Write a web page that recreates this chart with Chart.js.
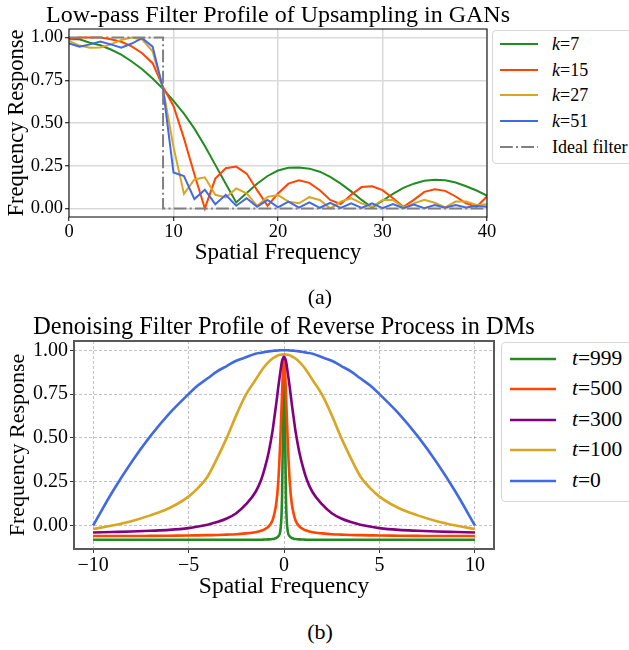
<!DOCTYPE html>
<html lang="en">
<head>
<meta charset="utf-8">
<title>Filter profiles</title>
<style>
  body { margin: 0; width: 629px; height: 650px; overflow: hidden; background: #fff;
         font-family: 'Liberation Serif', serif; color: #000; position: relative; }
  canvas { position: absolute; left: 0; }
  .legend { position: absolute; border: 1px solid #d6d6d6; border-radius: 4px; background: #fff; }
  .row { position: absolute; left: 0; white-space: nowrap; line-height: 1; }
  .row svg { position: absolute; }
  .row span { position: absolute; transform: translateY(-50%); }
  .cap { position: absolute; left: 270px; width: 100px; text-align: center; font-size: 22px; line-height: 1; }
</style>
</head>
<body>
<canvas id="gan" width="629" height="275" style="top:0"></canvas>
<canvas id="dm" width="629" height="310" style="top:300px"></canvas>
<div id="legA" class="legend" style="left:492px; top:30px; width:150px; height:132px"></div>
<div id="legB" class="legend" style="left:501px; top:342px; width:150px; height:158px"></div>
<div class="cap" style="top:286px">(a)</div>
<div class="cap" style="top:621px">(b)</div>

<script src="https://cdn.jsdelivr.net/npm/chart.js@4.4.1/dist/chart.umd.min.js"></script>
<script>
  // --- (a) low-pass filter of upsampling in GANs ---
  var ganFreq = [0, 1, 2, 3, 4, 5, 6, 7, 8, 9, 10, 11, 12, 13, 14, 15, 16, 17, 18, 19, 20,
                 21, 22, 23, 24, 25, 26, 27, 28, 29, 30, 31, 32, 33, 34, 35, 36, 37, 38, 39, 40];
  var k7  = [0.99, 0.99, 0.97, 0.955, 0.93, 0.90, 0.86, 0.815, 0.76, 0.70, 0.63, 0.555, 0.467, 0.365, 0.255, 0.145, 0.035,
             0.09, 0.145, 0.19, 0.222, 0.238, 0.24, 0.233, 0.215, 0.185, 0.145, 0.10, 0.05, 0.005,
             0.045, 0.085, 0.12, 0.145, 0.162, 0.168, 0.165, 0.152, 0.13, 0.105, 0.075];
  var k15 = [0.99, 1.0, 1.0, 1.0, 0.99, 0.975, 0.948, 0.908, 0.85, 0.71, 0.60, 0.41, 0.20, 0.0, 0.175, 0.235, 0.245,
             0.204, 0.107, 0.015, 0.088, 0.145, 0.165, 0.15, 0.107, 0.05, 0.025, 0.08, 0.125, 0.13,
             0.107, 0.06, 0.01, 0.05, 0.097, 0.112, 0.103, 0.07, 0.03, 0.01, 0.07];
  var k27 = [0.98, 0.953, 0.94, 0.942, 0.96, 0.986, 1.0, 0.988, 0.92, 0.70, 0.36, 0.085, 0.17, 0.182, 0.08, 0.064,
             0.117, 0.088, 0.015, 0.068, 0.078, 0.04, 0.03, 0.066, 0.05, 0.0, 0.04, 0.06, 0.03, 0.01,
             0.05, 0.05, 0.006, 0.03, 0.05, 0.033, 0.006, 0.04, 0.04, 0.02, 0.025];
  var k51 = [0.965, 0.947, 0.96, 0.977, 0.96, 0.94, 0.965, 0.996, 0.947, 0.70, 0.21, 0.19, 0.055, 0.11, 0.025, 0.08,
             0.016, 0.06, 0.01, 0.05, 0.006, 0.04, 0.005, 0.035, 0.004, 0.033, 0.003, 0.03, 0.003, 0.03,
             0.002, 0.025, 0.002, 0.023, 0.002, 0.02, 0.004, 0.02, 0.006, 0.014, 0.01];
  var idealFreq = [0, 9, 9, 40];
  var idealResp = [1, 1, 0, 0];
  var ganXTicks = [0, 10, 20, 30, 40];
  var ganYTicks = [0, 0.25, 0.5, 0.75, 1];

  // --- (b) denoising filter of reverse process in DMs ---
  var dmFreq = [-10, -9, -8, -7, -6, -5, -4.5, -4, -3.5, -3, -2.5, -2, -1.5, -1.2, -1, -0.8, -0.6, -0.5, -0.4, -0.3, -0.2, -0.1, -0.05,
                0, 0.05, 0.1, 0.2, 0.3, 0.4, 0.5, 0.6, 0.8, 1, 1.2, 1.5, 2, 2.5, 3, 3.5, 4, 4.5, 5, 6, 7, 8, 9, 10];
  var t999 = [-0.081, -0.081, -0.081, -0.081, -0.081, -0.081, -0.081, -0.081, -0.081, -0.081, -0.081, -0.081, -0.081, -0.081, -0.08,
              -0.079, -0.077, -0.075, -0.071, -0.062, -0.035, 0.17, 0.6,
              0.934,
              0.6, 0.17, -0.035, -0.062, -0.071, -0.075, -0.077, -0.079,
              -0.08, -0.081, -0.081, -0.081, -0.081, -0.081, -0.081, -0.081, -0.081, -0.081, -0.081, -0.081, -0.081, -0.081, -0.081];
  var t500 = [-0.06, -0.06, -0.06, -0.059, -0.058, -0.057, -0.056, -0.055, -0.054, -0.052, -0.05, -0.045, -0.038, -0.03, -0.02,
              -0.005, 0.03, 0.07, 0.13, 0.25, 0.47, 0.76, 0.89,
              0.947,
              0.89, 0.76, 0.47, 0.25, 0.13, 0.07, 0.03, -0.005,
              -0.02, -0.03, -0.038, -0.045, -0.05, -0.052, -0.054, -0.055, -0.056, -0.057, -0.058, -0.059, -0.06, -0.06, -0.06];
  var t300 = [-0.04, -0.037, -0.034, -0.03, -0.025, -0.015, -0.006, 0.005, 0.02, 0.04, 0.07, 0.12, 0.19, 0.26, 0.33,
              0.42, 0.54, 0.62, 0.70, 0.79, 0.87, 0.94, 0.955,
              0.965,
              0.955, 0.94, 0.87, 0.79, 0.70, 0.62, 0.54, 0.42,
              0.33, 0.26, 0.19, 0.12, 0.07, 0.04, 0.02, 0.005, -0.006, -0.015, -0.025, -0.03, -0.034, -0.037, -0.04];
  var t100 = [-0.02, 0.0, 0.025, 0.058, 0.10, 0.165, 0.215, 0.28, 0.385, 0.50, 0.63, 0.745, 0.83, 0.88, 0.91,
              0.934, 0.953, 0.96, 0.966, 0.971, 0.974, 0.976, 0.977,
              0.977,
              0.977, 0.976, 0.974, 0.971, 0.966, 0.96, 0.953, 0.934,
              0.91, 0.88, 0.83, 0.745, 0.63, 0.50, 0.385, 0.28, 0.215, 0.165, 0.10, 0.058, 0.025, 0.0, -0.02];
  var t0   = [0, 0.19, 0.36, 0.51, 0.64, 0.75, 0.80, 0.84, 0.88, 0.91, 0.94, 0.96, 0.98, 0.986, 0.99,
              0.994, 0.996, 0.998, 0.998, 0.999, 1.0, 1.0, 1.0,
              1.0,
              1.0, 1.0, 1.0, 0.999, 0.998, 0.998, 0.996, 0.994,
              0.99, 0.986, 0.98, 0.96, 0.94, 0.91, 0.88, 0.84, 0.80, 0.75, 0.64, 0.51, 0.36, 0.19, 0];
  var dmXTicks = [-10, -5, 0, 5, 10];
  var dmYTicks = [0, 0.25, 0.5, 0.75, 1];

  var serif = "'Liberation Serif', serif";
  Chart.defaults.color = '#000';
  Chart.defaults.font.family = serif;

  function pts(xs, ys) {
    return xs.map(function (x, i) { return { x: x, y: ys[i] }; });
  }

  // box around the plot area (matplotlib spines)
  var framePlugin = {
    id: 'frame',
    afterDatasetsDraw: function (chart, args, opts) {
      var a = chart.chartArea, ctx = chart.ctx;
      ctx.save();
      ctx.strokeStyle = opts.color;
      ctx.lineWidth = opts.width;
      ctx.strokeRect(a.left, a.top, a.right - a.left, a.bottom - a.top);
      ctx.restore();
    }
  };

  // axes title centred over the plot area, allowed to run wider than it
  var plotTitle = {
    id: 'plotTitle',
    afterDraw: function (chart, args, opts) {
      var a = chart.chartArea, ctx = chart.ctx;
      ctx.save();
      ctx.font = opts.size + 'px ' + serif;
      ctx.fillStyle = '#000';
      ctx.textAlign = 'center';
      ctx.textBaseline = 'middle';
      ctx.fillText(opts.text, (a.left + a.right) / 2, opts.y);
      ctx.restore();
    }
  };

  function scaleOpts(o) {
    return {
      type: 'linear',
      position: o.pos,
      min: o.min,
      max: o.max,
      afterBuildTicks: function (s) { s.ticks = o.ticks.map(function (v) { return { value: v }; }); },
      afterFit: function (s) { if (o.pos === 'left') s.width = o.size; else s.height = o.size; },
      grid: { color: o.gridColor, lineWidth: o.gridWidth, tickColor: o.tickColor, tickLength: 4, tickWidth: 1 },
      border: { display: false, dash: o.dash },
      ticks: { font: { size: o.tickSize }, padding: o.tickPad, callback: o.fmt, maxRotation: 0, autoSkip: false },
      title: { display: true, text: o.title, font: { size: o.titleSize }, padding: o.titlePad }
    };
  }

  // ---------- chart (a) ----------
  var ganColors = ['#228b22', '#ff4500', '#daa520', '#4169e1'];
  var ganSeries = [k7, k15, k27, k51];
  var ganNames = ['7', '15', '27', '51'];
  var ganSets = ganSeries.map(function (ys, i) {
    return { label: 'k=' + ganNames[i], data: pts(ganFreq, ys), borderColor: ganColors[i],
             borderWidth: 2, pointRadius: 0, tension: 0, order: 10 - i };
  });
  ganSets.push({ label: 'Ideal filter', data: pts(idealFreq, idealResp), borderColor: '#808080',
                 borderWidth: 2, borderDash: [12.8, 3.2, 2, 3.2], pointRadius: 0, tension: 0, order: 1 });

  new Chart(document.getElementById('gan'), {
    type: 'line',
    data: { datasets: ganSets },
    options: {
      responsive: false, animation: false, events: [],
      layout: { padding: { left: 0, right: 142, top: 29, bottom: 0 } },
      plugins: {
        legend: { display: false }, tooltip: { enabled: false }, title: { display: false },
        plotTitle: { text: 'Low-pass Filter Profile of Upsampling in GANs', size: 24, y: 16 },
        frame: { color: '#000', width: 1 }
      },
      scales: {
        x: scaleOpts({ pos: 'bottom', min: 0, max: 40, ticks: ganXTicks, size: 58, gridColor: '#d9d9d9', gridWidth: 1.5,
                       tickColor: '#000', tickSize: 18.5, tickPad: 0, title: 'Spatial Frequency', titleSize: 23,
                       titlePad: { top: 0, bottom: 8 }, fmt: function (v) { return String(v); } }),
        y: scaleOpts({ pos: 'left', min: -0.05, max: 1.05, ticks: ganYTicks, size: 69, gridColor: '#d9d9d9', gridWidth: 1.5,
                       tickColor: '#000', tickSize: 18.5, tickPad: 2, title: 'Frequency Response', titleSize: 22.5,
                       titlePad: { top: 4, bottom: 0 }, fmt: function (v) { return v.toFixed(2); } })
      }
    },
    plugins: [framePlugin, plotTitle]
  });

  // ---------- chart (b) ----------
  var dmColors = ['#228b22', '#ff4500', '#800080', '#daa520', '#4169e1'];
  var dmSeries = [t999, t500, t300, t100, t0];
  var dmNames = ['999', '500', '300', '100', '0'];
  var dmSets = dmSeries.map(function (ys, i) {
    return { label: 't=' + dmNames[i], data: pts(dmFreq, ys), borderColor: dmColors[i],
             borderWidth: 2.6, pointRadius: 0, cubicInterpolationMode: 'monotone', order: 10 - i };
  });

  new Chart(document.getElementById('dm'), {
    type: 'line',
    data: { datasets: dmSets },
    options: {
      responsive: false, animation: false, events: [],
      layout: { padding: { left: 0, right: 135, top: 41, bottom: 0 } },
      plugins: {
        legend: { display: false }, tooltip: { enabled: false }, title: { display: false },
        plotTitle: { text: 'Denoising Filter Profile of Reverse Process in DMs', size: 24.3, y: 28 },
        frame: { color: '#595959', width: 2 }
      },
      scales: {
        x: scaleOpts({ pos: 'bottom', min: -11, max: 11, ticks: dmXTicks, size: 61, gridColor: 'rgba(0,0,0,0.3)', gridWidth: 0.8,
                       tickColor: '#333', tickSize: 20, tickPad: 1, title: 'Spatial Frequency', titleSize: 23.5, dash: [3, 2],
                       titlePad: { top: 0, bottom: 9 },
                       fmt: function (v) { return v < 0 ? '\u2212' + Math.abs(v) : String(v); } }),
        y: scaleOpts({ pos: 'left', min: -0.134, max: 1.053, ticks: dmYTicks, size: 74, gridColor: 'rgba(0,0,0,0.3)', gridWidth: 0.8,
                       tickColor: '#333', tickSize: 20, tickPad: 2, title: 'Frequency Response', titleSize: 22, dash: [3, 2],
                       titlePad: { top: 5, bottom: 0 }, fmt: function (v) { return v.toFixed(2); } })
      }
    },
    plugins: [framePlugin, plotTitle]
  });

  // ---------- legends (italic math variable, like the LaTeX labels) ----------
  function buildLegend(id, letter, names, colors, o) {
    var box = document.getElementById(id);
    names.forEach(function (n, i) {
      var row = document.createElement('div');
      row.className = 'row';
      row.style.top = (o.first + o.step * i) + 'px';
      var dash = o.dash && o.dash[i] ? ' stroke-dasharray="' + o.dash[i] + '"' : '';
      row.innerHTML = '<svg style="left:' + o.swLeft + 'px; top:-5px" width="' + o.swWidth + '" height="10">' +
        '<line x1="0" y1="5" x2="' + o.swWidth + '" y2="5" stroke="' + colors[i] + '" stroke-width="' + o.lw + '"' + dash + '/></svg>' +
        '<span style="left:' + o.textLeft + 'px; font-size:' + o.font + 'px">' +
        (letter && n !== 'Ideal filter' ? '<i>' + letter + '</i>=' + n : n) + '</span>';
      box.appendChild(row);
    });
  }
  buildLegend('legA', 'k', ganNames.concat(['Ideal filter']), ganColors.concat(['#808080']),
              { first: 13, step: 25.7, swLeft: 6.5, swWidth: 38.5, textLeft: 59, font: 18, lw: 2,
                dash: [null, null, null, null, '12.8 3.2 2 3.2'] });
  buildLegend('legB', 't', dmNames, dmColors,
              { first: 16, step: 30.4, swLeft: 7.5, swWidth: 46, textLeft: 70, font: 21.5, lw: 2.6 });
</script>
</body>
</html>
